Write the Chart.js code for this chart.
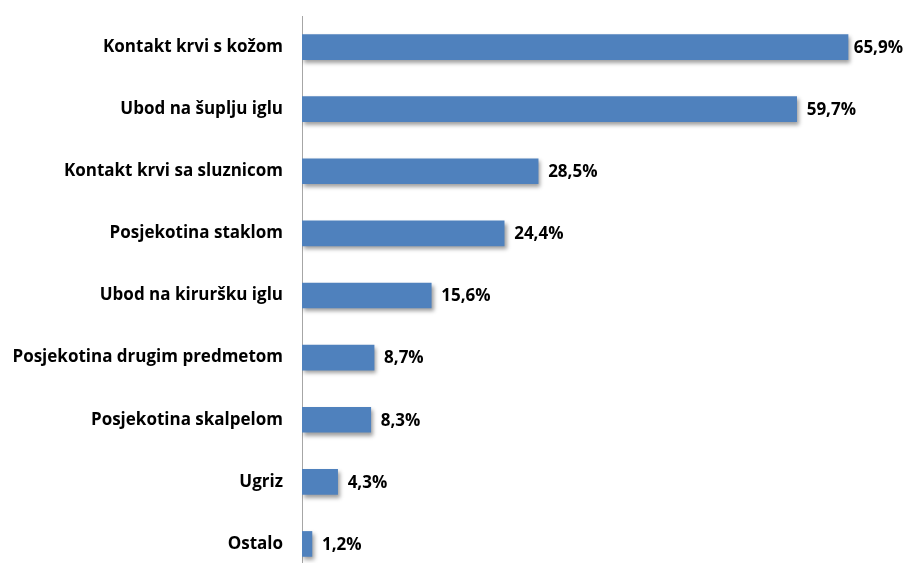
<!DOCTYPE html>
<html>
<head>
<meta charset="utf-8">
<script src="https://cdn.jsdelivr.net/npm/chart.js@4/dist/chart.umd.min.js"></script>
<style>
  html, body { margin: 0; padding: 0; background: #fff; overflow: hidden; }
  canvas { display: block; }
</style>
</head>
<body>
<canvas id="injuryChart" width="904" height="578"></canvas>
<script>
const categories = [
  "Kontakt krvi s kožom",
  "Ubod na šuplju iglu",
  "Kontakt krvi sa sluznicom",
  "Posjekotina staklom",
  "Ubod na kiruršku iglu",
  "Posjekotina drugim predmetom",
  "Posjekotina skalpelom",
  "Ugriz",
  "Ostalo"
];
const shares = [65.9, 59.7, 28.5, 24.4, 15.6, 8.7, 8.3, 4.3, 1.2];
const valueLabels = ["65,9%", "59,7%", "28,5%", "24,4%", "15,6%", "8,7%", "8,3%", "4,3%", "1,2%"];

const fontFamily = "'Open Sans', Lato, sans-serif";
const labelFont = "bold 17px " + fontFamily;

// soft drop shadow under the bars, then the value labels on top
const barDecor = {
  id: "barDecor",
  beforeDatasetsDraw(chart) {
    const ctx = chart.ctx;
    ctx.save();
    ctx.shadowColor = "rgba(0,0,0,0.38)";
    ctx.shadowBlur = 4;
    ctx.shadowOffsetX = 2;
    ctx.shadowOffsetY = 3;
  },
  afterDatasetsDraw(chart) {
    const ctx = chart.ctx;
    ctx.restore();
    const meta = chart.getDatasetMeta(0);
    ctx.save();
    ctx.font = labelFont;
    ctx.fillStyle = "#000";
    ctx.textBaseline = "middle";
    ctx.textAlign = "left";
    meta.data.forEach((bar, i) => {
      const text = valueLabels[i];
      const w = ctx.measureText(text).width;
      let x = bar.x + 10;
      if (x + w > chart.width - 1) x = chart.width - 1 - w;
      ctx.fillText(text, x, bar.y + 1);
    });
    ctx.restore();
  }
};

new Chart(document.getElementById("injuryChart"), {
  type: "bar",
  data: {
    labels: categories,
    datasets: [{
      data: shares,
      backgroundColor: "#4f81bd",
      borderWidth: 0,
      barThickness: 25
    }]
  },
  options: {
    indexAxis: "y",
    responsive: false,
    animation: false,
    layout: { padding: { top: 16, right: 22, bottom: 3, left: 0 } },
    plugins: {
      legend: { display: false },
      tooltip: { enabled: false }
    },
    scales: {
      x: {
        display: false,
        min: 0,
        max: 70
      },
      y: {
        afterFit(scale) {
          scale.width = 302;
          scale.paddingTop = 0;
          scale.paddingBottom = 0;
        },
        grid: { display: false, drawTicks: false },
        border: { display: true, color: "#a6a6a6", width: 1 },
        ticks: {
          color: "#000",
          padding: 19,
          font: { family: fontFamily, size: 17, weight: "bold" }
        }
      }
    }
  },
  plugins: [barDecor]
});
</script>
</body>
</html>
